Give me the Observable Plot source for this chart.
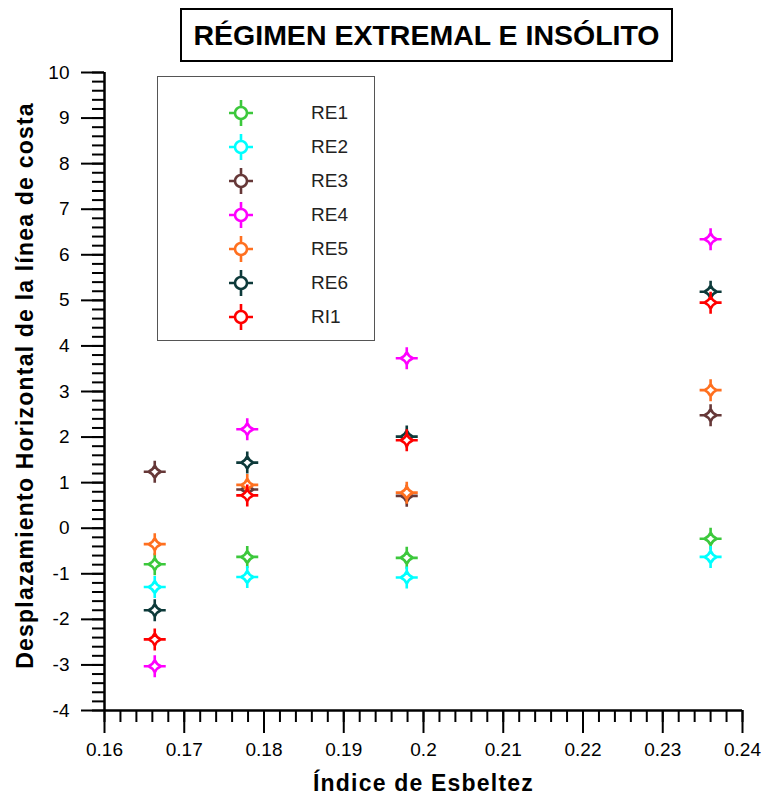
<!DOCTYPE html>
<html>
<head>
<meta charset="utf-8">
<script src="https://cdn.jsdelivr.net/npm/d3@7"></script>
<script src="https://cdn.jsdelivr.net/npm/@observablehq/plot@0.6"></script>
<style>
  html, body { margin: 0; padding: 0; background: #fff; }
  #wrap { position: relative; width: 764px; height: 799px; font-family: "Liberation Sans", Arial, sans-serif; }
  #title { position: absolute; left: 180px; top: 8px; width: 489px; height: 50px; border: 2px solid #000;
    display: flex; align-items: center; justify-content: center; font-weight: bold; font-size: 28.5px; color: #000; }
  #legend { position: absolute; left: 157px; top: 76px; width: 216px; height: 263px; border: 1.5px solid #555; background: #fff; }
  .litem { position: absolute; left: 0; height: 34px; width: 216px; }
  .litem svg { position: absolute; left: 68px; top: 0; }
  .litem span { position: absolute; left: 153px; top: 6px; font-size: 19px; color: #222; line-height: 22px; }
</style>
</head>
<body>
<div id="wrap">
  <div id="chart"></div>
  <div id="title"></div>
  <div id="legend"></div>
</div>
<script>
// ---- data ----
const series = ["RE1", "RE2", "RE3", "RE4", "RE5", "RE6", "RI1"];
const colors = ["#3cc83c", "#00ffff", "#663838", "#ff00ff", "#ff7020", "#0d3a3a", "#ff0000"];
const xValues = [0.1663, 0.1779, 0.1979, 0.2360];
const RE1 = [-0.79, -0.63, -0.65, -0.23];
const RE2 = [-1.29, -1.07, -1.08, -0.63];
const RE3 = [1.24, 0.85, 0.71, 2.48];
const RE4 = [-3.03, 2.17, 3.73, 6.34];
const RE5 = [-0.35, 0.95, 0.78, 3.03];
const RE6 = [-1.80, 1.44, 2.01, 5.19];
const RI1 = [-2.44, 0.72, 1.93, 4.95];
const xTicks = [0.16, 0.17, 0.18, 0.19, 0.2, 0.21, 0.22, 0.23, 0.24];
const yTicks = [-4, -3, -2, -1, 0, 1, 2, 3, 4, 5, 6, 7, 8, 9, 10];
const titleText = "RÉGIMEN EXTREMAL E INSÓLITO";
const xLabel = "Índice de Esbeltez";
const yLabel = "Desplazamiento Horizontal de la línea de costa";

const seriesValues = [RE1, RE2, RE3, RE4, RE5, RE6, RI1];
const data = [];
series.forEach((s, i) => seriesValues[i].forEach((v, j) => data.push({series: s, x: xValues[j], y: v})));

const xMinor = d3.range(0, 41).map(i => +(0.16 + i * 0.002).toFixed(3));
const yMinor = d3.range(0, 71).map(i => +(-4 + i * 0.2).toFixed(1));

// marker: concave diamond with four arms
const starSymbol = {
  draw(ctx, size) {
    const r = Math.sqrt(size / Math.PI);
    const a = r * 1.25, c = r * 0.35, arm = r * 2.2;
    ctx.moveTo(0, -a);
    ctx.quadraticCurveTo(c, -c, a, 0);
    ctx.quadraticCurveTo(c, c, 0, a);
    ctx.quadraticCurveTo(-c, c, -a, 0);
    ctx.quadraticCurveTo(-c, -c, 0, -a);
    ctx.closePath();
    ctx.moveTo(0, -a); ctx.lineTo(0, -arm);
    ctx.moveTo(0, a); ctx.lineTo(0, arm);
    ctx.moveTo(-a, 0); ctx.lineTo(-arm, 0);
    ctx.moveTo(a, 0); ctx.lineTo(arm, 0);
  }
};

const chart = Plot.plot({
  width: 764, height: 799,
  marginTop: 72, marginBottom: 89, marginLeft: 104, marginRight: 22,
  x: {domain: [0.16, 0.24]},
  y: {domain: [-4, 10]},
  color: {domain: series, range: colors},
  style: {fontFamily: "'Liberation Sans', Arial, sans-serif", fontSize: "19px", color: "#000", background: "white"},
  marks: [
    Plot.axisX(xMinor, {tickSize: 12, tickFormat: () => "", label: null, strokeWidth: 2}),
    Plot.axisX(xTicks, {tickSize: 23, tickPadding: 9, tickFormat: d => String(d), label: null, strokeWidth: 2, fontSize: 19}),
    Plot.axisY(yMinor, {tickSize: 12, tickFormat: () => "", label: null, strokeWidth: 2}),
    Plot.axisY(yTicks, {tickSize: 23, tickPadding: 12, tickFormat: d => String(d), label: null, strokeWidth: 2, fontSize: 19}),
    Plot.ruleX([0.16], {y1: -4, y2: 10, strokeWidth: 2.5}),
    Plot.ruleY([-4], {x1: 0.16, x2: 0.24, strokeWidth: 2.5}),
    Plot.dot(data, {x: "x", y: "y", stroke: "series", fill: "white", symbol: starSymbol, r: 5, strokeWidth: 2.6}),
    Plot.text([yLabel], {frameAnchor: "left", dx: -79, dy: -6, rotate: -90, textAnchor: "middle", fontSize: 23, fontWeight: "bold", lineAnchor: "middle"}),
    Plot.text([xLabel], {frameAnchor: "bottom", dy: 73, textAnchor: "middle", fontSize: 23, fontWeight: "bold", lineAnchor: "middle"})
  ]
});
d3.select(chart).selectAll("text")
  .filter(function () { const t = this.textContent; return t === xLabel || t === yLabel; })
  .style("letter-spacing", "1.2px");
document.getElementById("chart").appendChild(chart);
document.getElementById("title").textContent = titleText;

// legend
const legend = d3.select("#legend");
series.forEach((s, i) => {
  const item = legend.append("div").attr("class", "litem").style("top", (19 + i * 34) + "px");
  const svg = item.append("svg").attr("width", 30).attr("height", 34);
  const g = svg.append("g").attr("transform", "translate(15,17)")
    .attr("stroke", colors[i]).attr("stroke-width", 2.6).attr("fill", "white");
  g.append("path").attr("d", "M0,-6V-13M0,6V13M-6,0H-12M6,0H12");
  g.append("circle").attr("r", 6);
  item.append("span").text(s);
});
</script>
</body>
</html>
